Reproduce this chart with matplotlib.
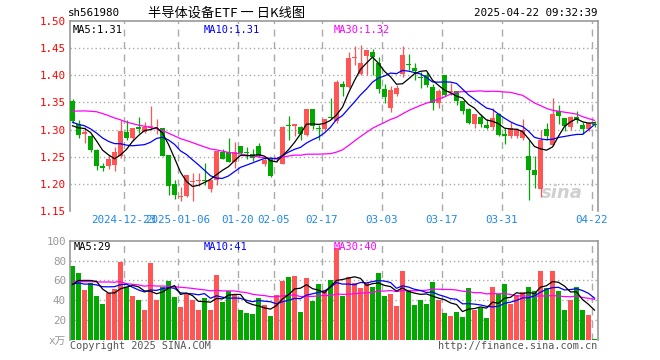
import numpy as np
import pandas as pd
import matplotlib
matplotlib.use("Agg")
import matplotlib.pyplot as plt

# === data (index 0 = 2024-12-10, last = 2025-04-22) ===
opens = [1.353, 1.311, 1.291, 1.289, 1.262, 1.232, 1.2325, 1.234, 1.252, 1.296,
         1.284, 1.304, 1.296, 1.305, 1.301, 1.302, 1.253, 1.199, 1.175, 1.1775,
         1.204, 1.2055, 1.2074, 1.190, 1.208, 1.259, 1.259, 1.240, 1.269, 1.2594,
         1.2557, 1.270, 1.236, 1.246, 1.2453, 1.2374, 1.307, 1.3058, 1.304, 1.2905,
         1.338, 1.3028, 1.3015, 1.3223, 1.315, 1.3846, 1.3779, 1.4317, 1.4017, 1.436,
         1.4427, 1.4231, 1.3748, 1.3394, 1.3657, 1.4017, 1.4207, 1.4133, 1.3968, 1.4005,
         1.3785, 1.3498, 1.4005, 1.3687, 1.3712, 1.3528, 1.338, 1.310, 1.323, 1.308,
         1.3046, 1.329, 1.2923, 1.2887, 1.2875, 1.2844, 1.252, 1.2264, 1.1897, 1.301,
         1.2722, 1.3333, 1.321, 1.3046, 1.3223, 1.308, 1.301, 1.3095]
highs = [1.357, 1.318, 1.304, 1.290, 1.264, 1.239, 1.253, 1.268, 1.318, 1.317,
         1.303, 1.323, 1.314, 1.344, 1.320, 1.303, 1.253, 1.208, 1.195, 1.217,
         1.220, 1.220, 1.2386, 1.2062, 1.260, 1.265, 1.285, 1.2777, 1.270, 1.268,
         1.265, 1.275, 1.2496, 1.246, 1.2496, 1.307, 1.3253, 1.3107, 1.306, 1.338,
         1.338, 1.308, 1.320, 1.359, 1.3913, 1.389, 1.442, 1.4537, 1.4555, 1.4463,
         1.448, 1.434, 1.3834, 1.381, 1.3816, 1.4537, 1.439, 1.422, 1.406, 1.406,
         1.384, 1.3742, 1.4005, 1.3864, 1.3712, 1.3528, 1.339, 1.329, 1.329, 1.320,
         1.3394, 1.330, 1.3028, 1.3137, 1.302, 1.320, 1.2813, 1.2508, 1.2985, 1.312,
         1.359, 1.3455, 1.321, 1.3241, 1.3345, 1.3137, 1.313, 1.315]
lows = [1.312, 1.284, 1.276, 1.258, 1.226, 1.223, 1.2276, 1.223, 1.247, 1.280,
        1.279, 1.293, 1.293, 1.300, 1.292, 1.251, 1.180, 1.173, 1.168, 1.176,
        1.168, 1.196, 1.1977, 1.185, 1.198, 1.2465, 1.240, 1.229, 1.255, 1.246,
        1.2416, 1.2496, 1.2325, 1.213, 1.241, 1.236, 1.280, 1.2887, 1.280, 1.289,
        1.301, 1.280, 1.2985, 1.3193, 1.313, 1.362, 1.376, 1.4188, 1.400, 1.4005,
        1.400, 1.368, 1.3486, 1.3315, 1.362, 1.396, 1.4097, 1.3913, 1.376, 1.379,
        1.3364, 1.3406, 1.362, 1.3638, 1.3455, 1.329, 1.3107, 1.3028, 1.304, 1.301,
        1.2985, 1.289, 1.2734, 1.2844, 1.2844, 1.2813, 1.170, 1.1916, 1.1757, 1.2813,
        1.2704, 1.3107, 1.2967, 1.2985, 1.313, 1.2918, 1.2967, 1.3046]
closes = [1.315, 1.2905, 1.295, 1.263, 1.2325, 1.230, 1.2465, 1.259, 1.298, 1.284,
          1.303, 1.301, 1.305, 1.307, 1.303, 1.252, 1.196, 1.179, 1.1775, 1.217,
          1.206, 1.2075, 1.205, 1.2062, 1.260, 1.2465, 1.241, 1.259, 1.256, 1.2575,
          1.247, 1.2508, 1.2435, 1.214, 1.247, 1.304, 1.3058, 1.3107, 1.2918, 1.338,
          1.3058, 1.301, 1.320, 1.3205, 1.3877, 1.3779, 1.4323, 1.4335, 1.4225, 1.4463,
          1.433, 1.3748, 1.3596, 1.373, 1.3773, 1.4372, 1.4195, 1.4078, 1.395, 1.3828,
          1.3498, 1.3718, 1.3638, 1.370, 1.3528, 1.3333, 1.312, 1.329, 1.3107, 1.3034,
          1.321, 1.2905, 1.2875, 1.3028, 1.301, 1.2997, 1.2252, 1.2154, 1.2813, 1.2887,
          1.329, 1.3241, 1.3058, 1.323, 1.318, 1.301, 1.312, 1.308]
volumes = [74.6, 67.9, 50.4, 57.8, 44.4, 36.3, 47.2, 51.4, 78.7, 53.1,
           44.4, 40.3, 30.3, 77.6, 40.3, 53.1, 59.5, 43.4, 33.3, 47.1,
           40.3, 30.3, 42.4, 30.3, 65.9, 38.3, 49.1, 45.7, 30.3, 27.2,
           26.2, 42.4, 35.6, 24.2, 45.0, 59.8, 63.5, 64.5, 28.2, 62.5,
           39.7, 56.5, 50.4, 60.5, 92.8, 44.4, 63.5, 57.1, 52.4, 57.1,
           53.4, 67.6, 44.4, 46.4, 34.3, 69.6, 50.4, 35.3, 40.3, 36.3,
           58.8, 40.3, 27.2, 24.2, 28.2, 23.2, 52.4, 30.3, 32.3, 22.2,
           53.4, 46.4, 56.5, 36.3, 45.4, 48.4, 53.4, 49.4, 69.6, 52.4,
           69.6, 49.4, 30.3, 40.3, 53.4, 30.3, 25.2, 1.3]

# sessions before the window, guessed from where the MA lines start
prev_close = [1.28, 1.29, 1.28, 1.26, 1.33, 1.36, 1.39, 1.40, 1.41, 1.39,
              1.38, 1.37, 1.38, 1.36, 1.36, 1.34, 1.33, 1.33, 1.32, 1.32,
              1.33, 1.32, 1.32, 1.31, 1.32, 1.31, 1.30, 1.30, 1.31]
prev_volume = [55, 50, 60, 48, 42, 45, 60, 56, 120, 62, 58, 70, 55, 60, 52,
               65, 58, 50, 62, 60, 55, 62, 58, 52, 55, 48, 50, 58, 49]

tick_idx = [9, 18, 28, 34, 42, 52, 62, 72, 87]
tick_labels = ["2024-12-23", "2025-01-06", "01-20", "02-05", "02-17",
               "03-03", "03-17", "03-31", "04-22"]

price_ticks = [1.15, 1.20, 1.25, 1.30, 1.35, 1.40, 1.45, 1.50]
vol_ticks = [0, 20, 40, 60, 80, 100]
vol_tick_labels = ["x万", "20", "40", "60", "80", "100"]

price_ma_text = ["MA5:1.31", "MA10:1.31", "MA30:1.32"]
vol_ma_text = ["MA5:29", "MA10:41", "MA30:40"]

COLORS = {
    "up": "#ff5555",
    "down": "#00a800",
    "ma5": "#000000",
    "ma10": "#0000ff",
    "ma30": "#ff00ff",
    "grid": "#aaaaaa",
    "frame": "#999999",
    "price_label": "#ff0000",
    "date_label": "#1e88e5",
    "vol_label": "#999999",
}
MONO = "DejaVu Sans Mono"
CJK = ["Noto Sans CJK SC", "DejaVu Sans"]

n = len(closes)
x = np.arange(n)
o = np.array(opens)
c = np.array(closes)
h = np.array(highs)
l = np.array(lows)
v = np.array(volumes)
up = c >= o
colors = np.where(up, COLORS["up"], COLORS["down"])


def moving_avgs(prev, cur):
    s = pd.Series(list(prev) + list(cur))
    k = len(prev)
    return {m: s.rolling(m, min_periods=1).mean().values[k:] for m in (5, 10, 30)}


price_ma = moving_avgs(prev_close, closes)
vol_ma = moving_avgs(prev_volume, volumes)

W, H = 660, 360
fig = plt.figure(figsize=(W / 100, H / 100), dpi=100, facecolor="white")


def fx(px):
    return px / W


def fy(py):
    return 1 - py / H


ax = fig.add_axes([fx(70), fy(211), 528 / W, 190 / H])
axv = fig.add_axes([fx(70), fy(340), 528 / W, 99.3 / H])

xlim = (-2.5 / 6, (598 - 72.5) / 6)


def style_frame(a):
    a.set_xlim(*xlim)
    for side in ("left", "top", "right"):
        a.spines[side].set_color(COLORS["frame"])
        a.spines[side].set_linewidth(1.2)
    a.spines["bottom"].set_visible(False)
    a.set_xticks([])
    a.tick_params(axis="y", length=0, pad=3)
    for t in tick_idx:
        a.axvline(t - 2.5 / 6, color=COLORS["grid"], lw=1, ls=(0, (5, 4)), zorder=0)


# --- price panel ---
style_frame(ax)
ax.set_ylim(1.15, 1.50)
ax.set_yticks(price_ticks)
ax.set_yticklabels([f"{p:.2f}" for p in price_ticks], color=COLORS["price_label"],
                   family=MONO, fontsize=7.8)
for p in price_ticks[1:-1]:
    ax.axhline(p, color=COLORS["grid"], lw=1, ls=(0, (1, 2)), zorder=0)

ax.vlines(x, l, h, color=colors, lw=0.9, zorder=2)
body = np.maximum(np.abs(c - o), 0.0018)
ax.bar(x, body, bottom=np.minimum(o, c), width=5 / 6, color=colors,
       linewidth=0, zorder=3)
ax.plot(x, price_ma[30], color=COLORS["ma30"], lw=0.9, zorder=4)
ax.plot(x, price_ma[10], color=COLORS["ma10"], lw=0.9, zorder=4)
ax.plot(x, price_ma[5], color=COLORS["ma5"], lw=0.9, zorder=4)

for txt, px, col in zip(price_ma_text, (73, 204, 334),
                        (COLORS["ma5"], COLORS["ma10"], COLORS["ma30"])):
    fig.text(fx(px), fy(30), txt, color=col, family=MONO, fontsize=7.5, va="center")

# date labels overlap in the original too (2024-12-23 / 2025-01-06)
for t, lab in zip(tick_idx, tick_labels):
    ax.text(t - 2.5 / 6, 1.15 - 0.016, lab, color=COLORS["date_label"], family=MONO,
            fontsize=7.8, ha="center", va="center", clip_on=False)

ax.text(81.5, 1.183, "sina", color="#d0d0d0", fontsize=13, fontweight="bold",
        style="italic", ha="center", va="center", zorder=1)

# --- volume panel ---
style_frame(axv)
axv.set_ylim(0, 100)
axv.set_yticks(vol_ticks)
axv.set_yticklabels(vol_tick_labels, color=COLORS["vol_label"],
                    family=[MONO, "Noto Sans CJK SC"], fontsize=7.8)
for p in vol_ticks[1:-1]:
    axv.axhline(p, color=COLORS["grid"], lw=1, ls=(0, (1, 2)), zorder=0)
axv.bar(x, v, width=5 / 6, color=colors, linewidth=0, zorder=2)
axv.plot(x, vol_ma[30], color=COLORS["ma30"], lw=0.9, zorder=4)
axv.plot(x, vol_ma[10], color=COLORS["ma10"], lw=0.9, zorder=4)
axv.plot(x, vol_ma[5], color=COLORS["ma5"], lw=0.9, zorder=4)

for txt, px, col in zip(vol_ma_text, (74, 204, 334),
                        (COLORS["ma5"], COLORS["ma10"], COLORS["ma30"])):
    fig.text(fx(px), fy(246.5), txt, color=col, family=MONO, fontsize=7.5, va="center")

# --- header / footer text ---
fig.text(fx(68), fy(13), "sh561980", family=MONO, fontsize=7.8, va="center")
fig.text(fx(148), fy(13), "半导体设备ETF 一 日K线图", family=CJK, fontsize=9.5,
         va="center")
fig.text(fx(597), fy(13), "2025-04-22 09:32:39", family=MONO, fontsize=7.8,
         va="center", ha="right")
fig.text(fx(70), fy(346), "Copyright 2025 SINA.COM", family=MONO, fontsize=7.3,
         va="center", color="#555555")
fig.text(fx(597), fy(346), "http://finance.sina.com.cn", family=MONO, fontsize=7.3,
         va="center", ha="right", color="#555555")

fig.savefig("out.png", dpi=100, facecolor="white")
